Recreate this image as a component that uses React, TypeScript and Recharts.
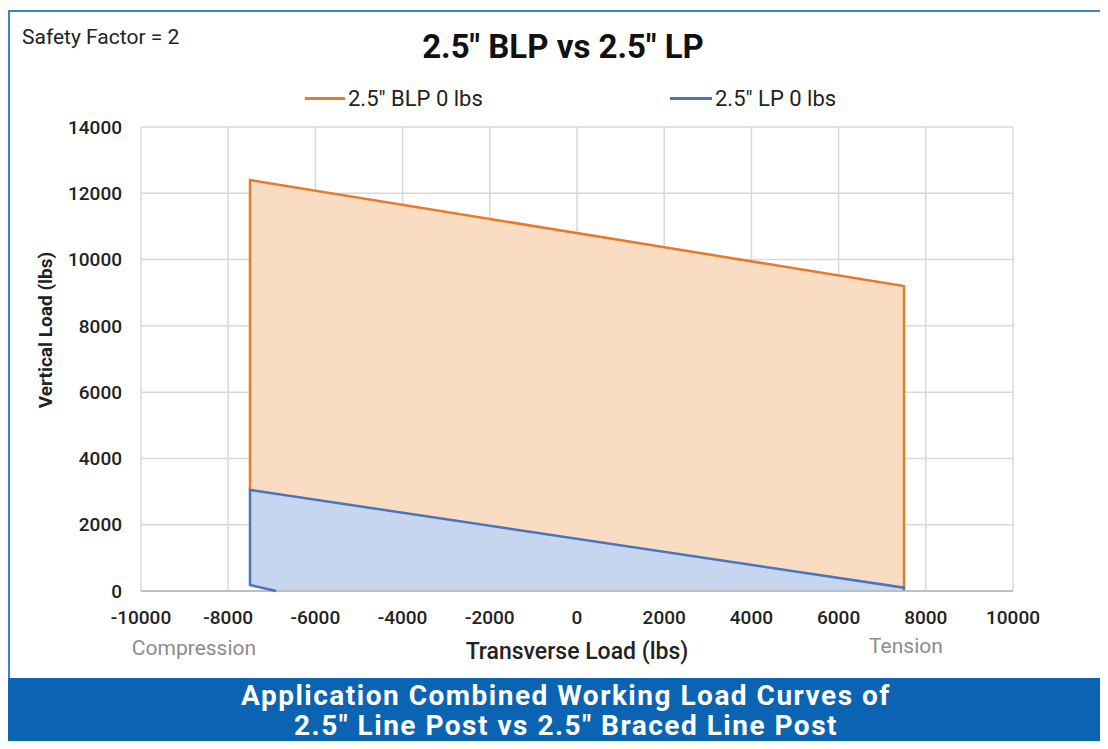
import React from 'react';
import { ComposedChart, Area, Scatter, XAxis, YAxis, CartesianGrid } from 'recharts';

// transverse load (lbs) positions where the envelopes change
const xPoints = [-7500, -6900, 7500];
// range values [lower, upper] in lbs
const blpRange = [[3050, 12400], [2930, 12270], [100, 9200]];
const lpRange = [[180, 3050], [0, 2930], [0, 100]];

// outline paths (drawn in order)
const blpOutline = [
  { x: -7500, y: 3050 },
  { x: -7500, y: 12400 },
  { x: 7500, y: 9200 },
  { x: 7500, y: 100 },
];
const lpOutline = [
  { x: -6900, y: 0 },
  { x: -7500, y: 180 },
  { x: -7500, y: 3050 },
  { x: 7500, y: 100 },
  { x: 7500, y: 20 },
];

const xTicks = [-10000, -8000, -6000, -4000, -2000, 0, 2000, 4000, 6000, 8000, 10000];
const yTicks = [0, 2000, 4000, 6000, 8000, 10000, 12000, 14000];

const ORANGE = '#E57B2A';
const BLUE = '#4A74BC';
const FONT = 'Roboto, "DejaVu Sans", sans-serif';

const chartData = xPoints.map((x, i) => ({ x, blp: blpRange[i], lp: lpRange[i] }));

const NoDot = () => <g />;

export default function App() {
  return (
    <div style={{ position: 'relative', width: 1108, height: 749, margin: -8, background: '#fff', fontFamily: FONT, overflow: 'hidden' }}>
      {/* frame */}
      <div style={{ position: 'absolute', left: 8, top: 10, width: 1100, height: 670, borderLeft: '2px solid #3C82C4', borderTop: '2px solid #3C82C4' }} />

      <div style={{ position: 'absolute', left: 22, top: 25, fontSize: 21, color: '#222', whiteSpace: 'nowrap' }}>Safety Factor = 2</div>
      <div style={{ position: 'absolute', left: 0, width: 1126, top: 27, textAlign: 'center', fontSize: 33, fontWeight: 700, color: '#111' }}>
        2.5" BLP vs 2.5" LP
      </div>

      {/* legend */}
      <div style={{ position: 'absolute', left: 305, top: 86, display: 'flex', alignItems: 'center', fontSize: 22, color: '#222', whiteSpace: 'nowrap' }}>
        <span style={{ display: 'inline-block', width: 40, height: 3, background: ORANGE, marginRight: 3 }} />
        2.5" BLP 0 lbs
      </div>
      <div style={{ position: 'absolute', left: 670, top: 86, display: 'flex', alignItems: 'center', fontSize: 22, color: '#222', whiteSpace: 'nowrap' }}>
        <span style={{ display: 'inline-block', width: 42, height: 3, background: BLUE, marginRight: 3 }} />
        2.5" LP 0 lbs
      </div>

      <div style={{ position: 'absolute', left: 0, top: 0 }}>
        <ComposedChart width={1108} height={749} data={chartData} margin={{ top: 127, right: 95, bottom: 118, left: 81 }}>
          <CartesianGrid stroke="#D9D9D9" strokeWidth={1.5} />
          <XAxis
            type="number"
            dataKey="x"
            domain={[-10000, 10000]}
            ticks={xTicks}
            height={40}
            axisLine={{ stroke: '#BFBFBF', strokeWidth: 2 }}
            tickLine={false}
            tick={{ fill: '#222', fontSize: 19, fontFamily: FONT, fontWeight: 500 }}
            tickMargin={14}
          />
          <YAxis
            type="number"
            domain={[0, 14000]}
            ticks={yTicks}
            width={60}
            axisLine={false}
            tickLine={false}
            tick={{ fill: '#222', fontSize: 19, fontFamily: FONT, fontWeight: 500 }}
            tickMargin={13}
          />
          <Area type="linear" dataKey="blp" stroke="none" fill="#F9DCC2" fillOpacity={1} isAnimationActive={false} />
          <Area type="linear" dataKey="lp" stroke="none" fill="#C6D6EF" fillOpacity={1} isAnimationActive={false} />
          <Scatter data={blpOutline} dataKey="y" line={{ stroke: ORANGE, strokeWidth: 2.5 }} shape={NoDot} isAnimationActive={false} />
          <Scatter data={lpOutline} dataKey="y" line={{ stroke: BLUE, strokeWidth: 2.5 }} shape={NoDot} isAnimationActive={false} />
        </ComposedChart>
      </div>

      {/* axis titles */}
      <div style={{ position: 'absolute', left: 45, top: 330, transform: 'translate(-50%, -50%) rotate(-90deg)', whiteSpace: 'nowrap', fontSize: 19, fontWeight: 700, color: '#222' }}>
        Vertical Load (lbs)
      </div>
      <div style={{ position: 'absolute', left: 577, top: 651, transform: 'translate(-50%, -50%)', whiteSpace: 'nowrap', fontSize: 23, fontWeight: 500, color: '#222' }}>
        Transverse Load (lbs)
      </div>
      <div style={{ position: 'absolute', left: 194, top: 648, transform: 'translate(-50%, -50%)', fontSize: 21, color: '#8C8C8C' }}>Compression</div>
      <div style={{ position: 'absolute', left: 906, top: 646, transform: 'translate(-50%, -50%)', fontSize: 21, color: '#8C8C8C' }}>Tension</div>

      {/* banner */}
      <div style={{ position: 'absolute', left: 4, top: 678, width: 1104, height: 71, background: '#0B64B2', color: '#fff', textAlign: 'center', fontWeight: 700, fontSize: 28, lineHeight: '30px', letterSpacing: 1.5, paddingTop: 3, boxSizing: 'border-box', whiteSpace: 'nowrap' }}>
        <div style={{ marginLeft: 20 }}>Application Combined Working Load Curves of</div>
        <div style={{ marginLeft: 20 }}>2.5" Line Post vs 2.5" Braced Line Post</div>
      </div>
    </div>
  );
}
